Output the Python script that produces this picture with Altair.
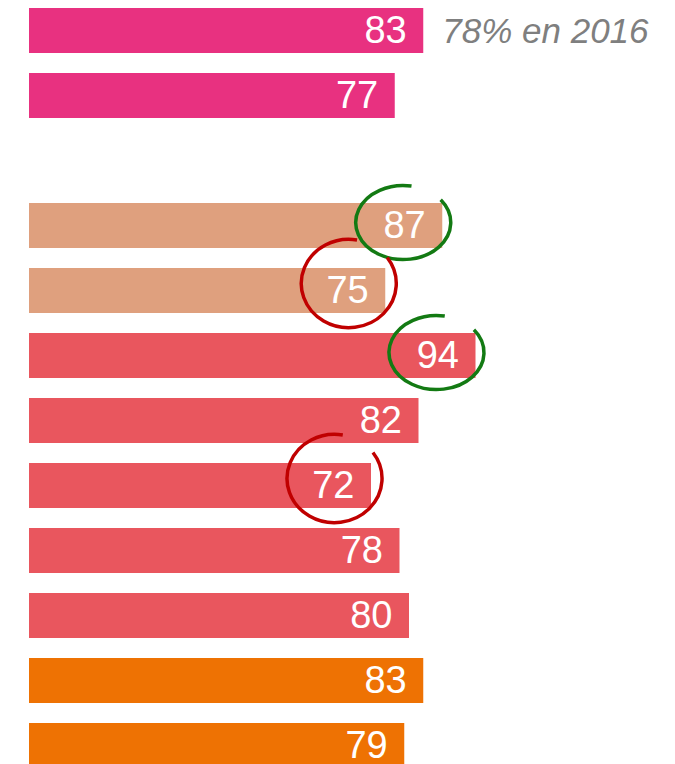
import altair as alt
import pandas as pd

rows = ["r1", "r2", "gap", "r3", "r4", "r5", "r6", "r7", "r8", "r9", "r10", "r11"]
values = [83, 77, None, 87, 75, 94, 82, 72, 78, 80, 83, 79]
groups = ["rose", "rose", None, "sable", "sable", "rouge", "rouge", "rouge", "rouge", "rouge", "orange", "orange"]
group_names = ["rose", "sable", "rouge", "orange"]
group_colors = ["#E83180", "#DFA07E", "#E9565E", "#EE7203"]

note_row = "r1"
note_text = "78% en 2016"

good_rows = ["r3", "r5"]   # green rings
bad_rows = ["r4", "r7"]    # red rings

df = pd.DataFrame({"row": rows, "value": values, "group": groups}).dropna()
df["label"] = df["value"].astype(int).astype(str)

x = alt.X("value:Q", scale=alt.Scale(domain=[0, 100]), axis=None)
y = alt.Y("row:N", scale=alt.Scale(domain=rows, paddingInner=20 / 65, paddingOuter=0), axis=None)

bars = alt.Chart(df).mark_bar().encode(
    x=x, y=y,
    color=alt.Color("group:N", scale=alt.Scale(domain=group_names, range=group_colors), legend=None),
)

labels = alt.Chart(df).mark_text(
    align="right", baseline="middle", dx=-16.5, dy=1, fontSize=38, color="white", font="Liberation Sans"
).encode(x=x, y=y, text="label:N")

note = alt.Chart(df[df["row"] == note_row].assign(note=note_text)).mark_text(
    align="left", baseline="middle", dx=19, dy=1, fontSize=35, fontStyle="italic",
    color="#7F7F7F", font="Liberation Sans"
).encode(x=x, y=y, text="note:N")

# open ring shapes, drawn left of and slightly above the bar end (unit = 47.5 px)
green_path = "M -0.647 -0.831 A 1 0.78 0 1 0 -0.033 -0.543"
red_path = "M -0.594 -1.063 A 1 0.93 0 1 0 0.041 -0.694"

green = alt.Chart(df[df["row"].isin(good_rows)]).mark_point(
    shape=green_path, size=9025, filled=False, stroke="#137A13", strokeWidth=3.5, opacity=1
).encode(x=x, y=y)

red = alt.Chart(df[df["row"].isin(bad_rows)]).mark_point(
    shape=red_path, size=9025, filled=False, stroke="#C00000", strokeWidth=3.5, opacity=1
).encode(x=x, y=y)

chart = alt.layer(bars, labels, note, green, red).properties(
    width=475, height=760,
    padding={"left": 21, "top": 0, "right": 0, "bottom": 0},
).configure_view(stroke=None)

chart.save("out.html", embed_options={"renderer": "svg", "actions": False})
